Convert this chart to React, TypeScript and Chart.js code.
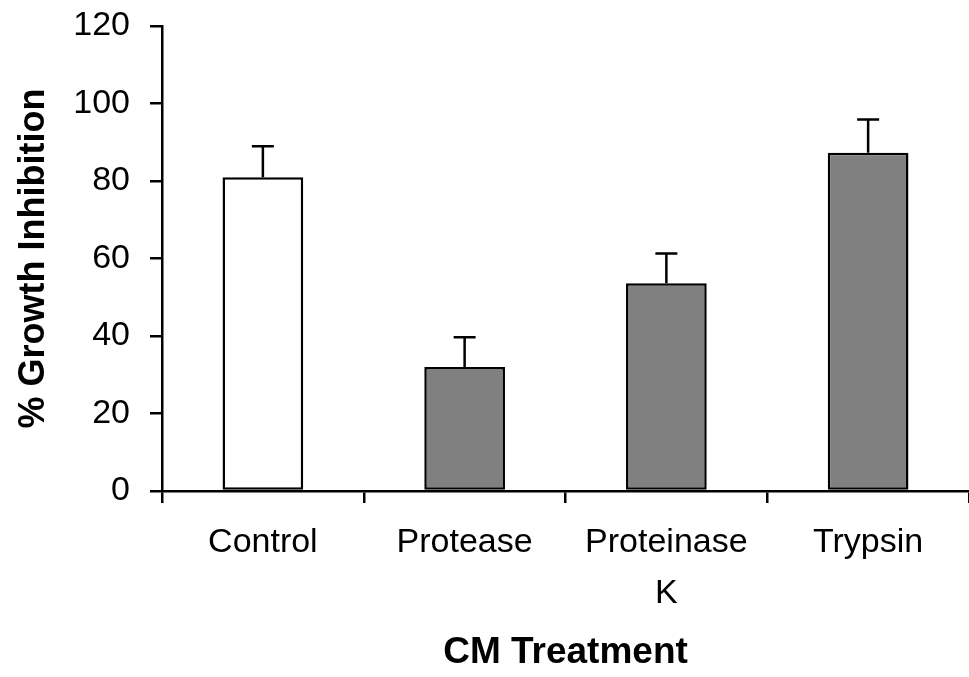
import React, { useEffect, useRef } from "react";
import { Chart, registerables } from "chart.js";

Chart.register(...registerables);

const categories: (string | string[])[] = ["Control", "Protease", ["Proteinase", "K"], "Trypsin"];
const inhibition = [81, 32, 53.6, 87.3];
const errors = [8, 7.7, 7.7, 8.6];
const barColors = ["#ffffff", "#808080", "#808080", "#808080"];
const yTicks = { min: 0, max: 120, step: 20 };

const FONT = "'Liberation Sans', Arial, Helvetica, sans-serif";

const errorBarPlugin = {
  id: "errorBars",
  afterDatasetsDraw(chart: any) {
    const ctx = chart.ctx;
    const meta = chart.getDatasetMeta(0);
    const yScale = chart.scales.y;
    ctx.save();
    ctx.strokeStyle = "#000";
    ctx.lineWidth = 2.5;
    meta.data.forEach((bar: any, i: number) => {
      const v = inhibition[i];
      const top = yScale.getPixelForValue(v + errors[i]);
      const base = yScale.getPixelForValue(v);
      const x = bar.x;
      ctx.beginPath();
      ctx.moveTo(x, base);
      ctx.lineTo(x, top);
      ctx.moveTo(x - 11, top);
      ctx.lineTo(x + 11, top);
      ctx.stroke();
    });
    ctx.restore();
  },
};

export default function App() {
  const ref = useRef<HTMLCanvasElement>(null);
  useEffect(() => {
    if (!ref.current) return;
    const chart = new Chart(ref.current, {
      type: "bar",
      data: {
        labels: categories as any,
        datasets: [
          {
            data: inhibition,
            backgroundColor: barColors,
            borderColor: "#000",
            borderWidth: 2.5,
            borderSkipped: false,
            categoryPercentage: 1,
            barPercentage: 0.4,
          },
        ],
      },
      options: {
        responsive: false,
        animation: false,
        layout: { padding: { top: 26, right: 0, left: 0, bottom: 0 } },
        plugins: {
          legend: { display: false },
          tooltip: { enabled: false },
        },
        scales: {
          x: {
            offset: true,
            afterFit(scale: any) {
              scale.height = 186;
              scale.paddingLeft = 0;
              scale.paddingRight = 0;
            },
            border: { display: true, color: "#000", width: 2.5 },
            grid: {
              display: true,
              offset: true,
              drawOnChartArea: false,
              drawTicks: true,
              tickLength: 12,
              color: "#000",
              lineWidth: 2.5,
            },
            ticks: {
              color: "#000",
              font: { family: FONT, size: 34, lineHeight: 1.5 },
              padding: 14,
              maxRotation: 0,
              autoSkip: false,
            },
            title: {
              display: true,
              text: "CM Treatment",
              color: "#000",
              font: { family: FONT, size: 37, weight: "bold" },
              padding: { top: 0, bottom: 2 },
            },
          },
          y: {
            min: yTicks.min,
            max: yTicks.max,
            afterFit(scale: any) {
              scale.width = 162;
              scale.paddingTop = 0;
              scale.paddingBottom = 0;
            },
            border: { display: true, color: "#000", width: 2.5 },
            grid: {
              display: true,
              drawOnChartArea: false,
              drawTicks: true,
              tickLength: 12,
              color: "#000",
              lineWidth: 2.5,
            },
            ticks: {
              stepSize: yTicks.step,
              color: "#000",
              font: { family: FONT, size: 34 },
              padding: 20,
            },
            title: {
              display: true,
              text: "% Growth Inhibition",
              color: "#000",
              font: { family: FONT, size: 36, weight: "bold" },
              padding: { top: 12, bottom: 0 },
            },
          },
        },
      },
      plugins: [errorBarPlugin],
    });
    return () => chart.destroy();
  }, []);
  return (
    <div style={{ position: "fixed", left: 0, top: 0, width: 969, height: 677, background: "#fff" }}>
      <canvas ref={ref} width={969} height={677} />
    </div>
  );
}
